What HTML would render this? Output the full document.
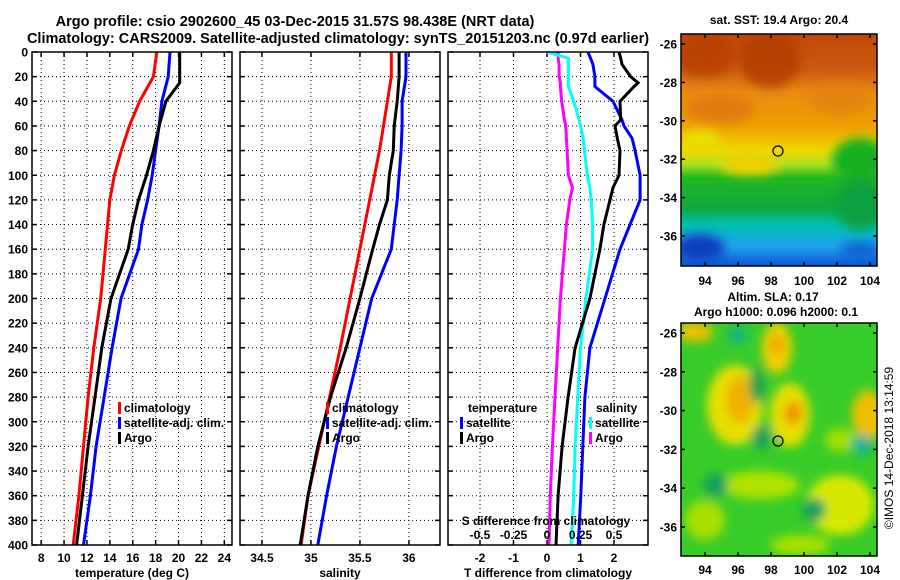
<!DOCTYPE html>
<html><head><meta charset="utf-8"><style>
body{margin:0;background:#fff;}
svg{display:block;font-family:"Liberation Sans",sans-serif;font-weight:bold;}
</style></head><body>
<svg id="chart" width="900" height="580" viewBox="0 0 900 580">
<defs>
<linearGradient id="sstg" x1="0" y1="0" x2="0" y2="1">
<stop offset="0" stop-color="#c04808"/><stop offset="0.15" stop-color="#c85a10"/><stop offset="0.25" stop-color="#e88a10"/><stop offset="0.4" stop-color="#f0a000"/><stop offset="0.5" stop-color="#f0d800"/><stop offset="0.56" stop-color="#b0e020"/><stop offset="0.62" stop-color="#20b820"/><stop offset="0.75" stop-color="#10a840"/><stop offset="0.82" stop-color="#00c0b0"/><stop offset="0.92" stop-color="#20a0f0"/><stop offset="1" stop-color="#1050d0"/>
</linearGradient>
<filter id="blur" x="-20%" y="-20%" width="140%" height="140%"><feGaussianBlur stdDeviation="5"/></filter>
<clipPath id="c1"><rect x="681" y="34" width="196" height="232"/></clipPath>
<clipPath id="c2"><rect x="681" y="323" width="196" height="233"/></clipPath>
</defs>
<g font-size="14.5" text-anchor="middle">
<text x="295" y="26">Argo profile: csio 2902600_45 03-Dec-2015 31.57S 98.438E (NRT data)</text>
<text x="338" y="43">Climatology: CARS2009. Satellite-adjusted climatology: synTS_20151203.nc (0.97d earlier)</text>
</g>
<g id="panels"></g>
<g clip-path="url(#c1)">
<rect x="681" y="34" width="196" height="232" fill="url(#sstg)"/>
<g filter="url(#blur)">
<ellipse cx="705" cy="55" rx="30" ry="22" fill="#b84008" opacity="0.8"/>
<ellipse cx="770" cy="60" rx="30" ry="28" fill="#b03c08" opacity="0.8"/>
<ellipse cx="720" cy="110" rx="35" ry="14" fill="#d86a10" opacity="0.6"/>
<ellipse cx="860" cy="160" rx="28" ry="22" fill="#18b020"/>
<ellipse cx="840" cy="100" rx="30" ry="15" fill="#e08010" opacity="0.7"/>
<ellipse cx="750" cy="165" rx="30" ry="10" fill="#f0d000"/>
<ellipse cx="700" cy="140" rx="20" ry="10" fill="#e8e000"/>
<ellipse cx="860" cy="205" rx="25" ry="25" fill="#10a040"/>
<ellipse cx="700" cy="248" rx="25" ry="14" fill="#1040c0"/>
<ellipse cx="860" cy="250" rx="20" ry="8" fill="#1060d0"/>
</g>
</g>
<rect x="681" y="34" width="196" height="232" fill="none" stroke="#000" stroke-width="1.5"/>
<circle cx="778" cy="151" r="5" fill="none" stroke="#000" stroke-width="1.2"/>
<text x="779" y="24" font-size="12" text-anchor="middle">sat. SST: 19.4 Argo: 20.4</text>
<g clip-path="url(#c2)">
<rect x="681" y="323" width="196" height="233" fill="#38cc28"/>
<g filter="url(#blur)">
<ellipse cx="735" cy="405" rx="28" ry="40" fill="#e8e000"/>
<ellipse cx="740" cy="400" rx="14" ry="24" fill="#f0b000"/>
<ellipse cx="777" cy="348" rx="15" ry="26" fill="#f0d000"/>
<ellipse cx="777" cy="345" rx="6" ry="10" fill="#f0a000"/>
<ellipse cx="790" cy="415" rx="20" ry="32" fill="#e8e000"/>
<ellipse cx="793" cy="413" rx="9" ry="12" fill="#f09000"/>
<ellipse cx="868" cy="415" rx="16" ry="25" fill="#f0c000"/>
<ellipse cx="840" cy="505" rx="34" ry="30" fill="#d8e800"/>
<ellipse cx="695" cy="332" rx="18" ry="10" fill="#f0c000"/>
<ellipse cx="760" cy="485" rx="40" ry="14" fill="#b0e400"/>
<ellipse cx="705" cy="520" rx="20" ry="20" fill="#a8e000"/>
<ellipse cx="800" cy="545" rx="30" ry="10" fill="#a8e000"/>
<ellipse cx="840" cy="440" rx="15" ry="12" fill="#a0e000"/>
<ellipse cx="738" cy="335" rx="10" ry="8" fill="#10b090"/>
<ellipse cx="762" cy="437" rx="10" ry="12" fill="#10a060"/>
<ellipse cx="862" cy="445" rx="10" ry="10" fill="#10b0a0"/>
<ellipse cx="814" cy="510" rx="12" ry="12" fill="#10a060"/>
<ellipse cx="716" cy="485" rx="12" ry="12" fill="#10a060"/>
<ellipse cx="757" cy="385" rx="8" ry="18" fill="#20a050"/>
</g>
</g>
<rect x="681" y="323" width="196" height="233" fill="none" stroke="#000" stroke-width="1.5"/>
<circle cx="778" cy="441" r="5" fill="none" stroke="#000" stroke-width="1.2"/>
<g font-size="12" text-anchor="middle">
<text x="773" y="301">Altim. SLA: 0.17</text>
<text x="776" y="316">Argo h1000: 0.096 h2000: 0.1</text>
</g>
<text transform="translate(893,448) rotate(-90)" font-size="12" font-weight="normal" text-anchor="middle">©IMOS 14-Dec-2018 13:14:59</text>
<g id="maps-axes"></g>
</svg>
<script>
// ---- data ----
const depths   = [0,20,40,60,80,100,120,140,160,200,240,280,320,360,400];
const tempClim = [18.1,17.8,16.6,15.7,15.0,14.4,14.0,13.8,13.6,13.2,12.6,12.1,11.7,11.3,10.8];
const tempSat  = [19.25,19.1,18.55,18.3,18.0,17.7,17.3,16.8,16.5,14.97,14.2,13.5,12.8,12.3,11.7];
const tempArgoDepths = [0,25,40,60,80,100,120,140,160,200,240,280,320,360,400];
const tempArgo = [20.1,20.1,18.9,18.3,17.8,17.2,16.5,16.0,15.6,14.1,13.3,12.7,12.1,11.6,11.1];
const salClim  = [35.82,35.82,35.78,35.74,35.70,35.65,35.60,35.55,35.50,35.40,35.30,35.19,35.08,34.97,34.90];
const salSat   = [35.97,35.97,35.93,35.93,35.92,35.90,35.88,35.85,35.82,35.62,35.50,35.38,35.26,35.16,35.07];
const salArgo  = [35.90,35.90,35.88,35.85,35.84,35.80,35.78,35.70,35.63,35.50,35.36,35.20,35.07,34.97,34.89];
const diffDepths  = [0,5,10,20,25,28,40,55,60,70,80,100,110,120,140,160,200,240,280,320,360,400];
const tDiffSat  = [1.22,1.3,1.37,1.43,1.43,1.43,1.97,2.24,2.3,2.54,2.63,2.78,2.78,2.78,2.48,2.18,1.73,1.28,1.13,1.07,1.01,0.93];
const tDiffArgo = [2.15,2.2,2.24,2.5,2.72,2.6,2.18,2.2,2.03,2.1,2.18,2.15,1.97,1.88,1.70,1.58,1.28,0.84,0.63,0.45,0.33,0.27];
const sDiffSat  = [0.0,0.16,0.16,0.16,0.16,0.16,0.2,0.24,0.25,0.27,0.28,0.30,0.32,0.33,0.34,0.34,0.29,0.25,0.23,0.21,0.20,0.18];
const sDiffArgo = [0.083,0.083,0.09,0.09,0.10,0.10,0.11,0.13,0.14,0.145,0.15,0.16,0.19,0.17,0.145,0.13,0.10,0.08,0.06,0.04,0.025,0.015];
const depthTicks = [0,20,40,60,80,100,120,140,160,180,200,220,240,260,280,300,320,340,360,380,400];
const tempTicks = [8,10,12,14,16,18,20,22,24];
const salTicks = [34.5,35,35.5,36];
const salTickLabels = ["34.5","35","35.5","36"];
const tDiffTicks = [-2,-1,0,1,2];
const sDiffTicks = [-0.5,-0.25,0,0.25,0.5];
const sDiffLabels = ["-0.5","-0.25","0","0.25","0.5"];
const latTicks = [-26,-28,-30,-32,-34,-36];
const lonTicks = [94,96,98,100,102,104];

const NS="http://www.w3.org/2000/svg";
const root=document.getElementById('panels');
function mk(tag,attrs,parent){const e=document.createElementNS(NS,tag);for(const k in attrs)e.setAttribute(k,attrs[k]);(parent||root).appendChild(e);return e;}
const Y0=52,Y1=545;
const yScale=d=>Y0+(d/400)*(Y1-Y0);
function makeX(x0,x1,v0,v1){return v=>x0+(v-v0)/(v1-v0)*(x1-x0);}

function panel(name,x0,x1,xs,ticks,labels,title,showY){
  const g=mk('g',{});
  
  
  ticks.forEach(t=>{const x=xs(t);
    const l=mk('line',{x1:x,x2:x,y1:Y0,y2:Y1,stroke:'#000','stroke-width':1,'stroke-dasharray':'1,3'},g);
    
    
    mk('line',{x1:x,x2:x,y1:Y1,y2:Y1-5,stroke:'#000','stroke-width':1.5},g);
    mk('line',{x1:x,x2:x,y1:Y0,y2:Y0+5,stroke:'#000','stroke-width':1.5},g);
  });
  depthTicks.forEach(d=>{const y=yScale(d);
    if(d>0&&d<400){const l=mk('line',{x1:x0,x2:x1,y1:y,y2:y,stroke:'#000','stroke-width':1,'stroke-dasharray':'1,3'},g);
    
    }
    mk('line',{x1:x0,x2:x0+5,y1:y,y2:y,stroke:'#000','stroke-width':1.5},g);
    mk('line',{x1:x1-5,x2:x1,y1:y,y2:y,stroke:'#000','stroke-width':1.5},g);
    if(showY){const t=mk('text',{x:x0-4,y:y+4.5,'font-size':12,'text-anchor':'end'},g);t.textContent=d;
      
      }
  });
  if(labels){ticks.forEach((t,i)=>{const tx=mk('text',{x:xs(t),y:562,'font-size':12,'text-anchor':'middle'},g);tx.textContent=labels[i];
    
    });}
  const tt=mk('text',{x:(x0+x1)/2,y:577,'font-size':12,'text-anchor':'middle'},g);tt.textContent=title;
  
  
  return g;
}
function series(g,name,xs,vals,ds,color){
  const pts=vals.map((v,i)=>xs(v).toFixed(1)+','+yScale(ds[i]).toFixed(1)).join(' ');
  const p=mk('polyline',{points:pts,fill:'none',stroke:color,'stroke-width':3},g);
  
  
}
function frame(g,x0,x1){mk('rect',{x:x0,y:Y0,width:x1-x0,height:Y1-Y0,fill:'none',stroke:'#000','stroke-width':1.5},g);}
function legend(g,x,y,items,dx){
  items.forEach((it,i)=>{
    if(it[1]){const r=mk('rect',{x:x,y:y+i*15-10,width:3,height:12,fill:it[1]},g);
      
      }
    const t=mk('text',{x:x+(it[1]?6:(dx||0)),y:y+i*15,'font-size':12},g);t.textContent=it[0];
    
    
  });
}

const xT=makeX(32,232,7.2,24.67);
const g1=panel('temperature-panel',32,232,xT,tempTicks,tempTicks.map(String),'temperature (deg C)',true);
series(g1,'temp-climatology-line',xT,tempClim,depths,'#f00');
series(g1,'temp-satellite-line',xT,tempSat,depths,'#00f');
series(g1,'temp-argo-line',xT,tempArgo,tempArgoDepths,'#000');
frame(g1,32,232);
legend(g1,118,412,[['climatology','#f00'],['satellite-adj. clim.','#00f'],['Argo','#000']]);

const xS=makeX(240,440,34.276,36.317);
const g2=panel('salinity-panel',240,440,xS,salTicks,salTickLabels,'salinity',false);
series(g2,'sal-climatology-line',xS,salClim,depths,'#f00');
series(g2,'sal-satellite-line',xS,salSat,depths,'#00f');
series(g2,'sal-argo-line',xS,salArgo,depths,'#000');
frame(g2,240,440);
legend(g2,326,412,[['climatology','#f00'],['satellite-adj. clim.','#00f'],['Argo','#000']]);

const xD=makeX(448,648,-2.955,3.015);
const xSD=s=>xD(s*4);
const g3=panel('difference-panel',448,648,xD,tDiffTicks,tDiffTicks.map(String),'T difference from climatology',false);
series(g3,'s-diff-argo-line',xSD,sDiffArgo,diffDepths,'#f0f');
series(g3,'s-diff-satellite-line',xSD,sDiffSat,diffDepths,'#0ff');
series(g3,'t-diff-satellite-line',xD,tDiffSat,diffDepths,'#00f');
series(g3,'t-diff-argo-line',xD,tDiffArgo,diffDepths,'#000');
frame(g3,448,648);
legend(g3,460,412,[['temperature',null],['satellite','#00f'],['Argo','#000']],8);
legend(g3,589,412,[['salinity',null],['satellite','#0ff'],['Argo','#f0f']],7);
const st=mk('text',{x:546,y:525,'font-size':12,'text-anchor':'middle'},g3);st.textContent='S difference from climatology';


sDiffTicks.forEach((s,i)=>{const t=mk('text',{x:xSD(s),y:539,'font-size':12,'text-anchor':'middle'},g3);t.textContent=sDiffLabels[i];
  
  });

const ma=document.getElementById('maps-axes');
function mapAxes(name,top,bot,lat26,lat36,lonY){
  const g=mk('g',{},ma);
  
  
  const ly=lat=>lat26+(lat+26)/(-10)*(lat36-lat26);
  const lx=lon=>705+(lon-94)*16.5;
  latTicks.forEach(l=>{const y=ly(l);
    mk('line',{x1:681,x2:685,y1:y,y2:y,stroke:'#000','stroke-width':1.5},g);
    mk('line',{x1:873,x2:877,y1:y,y2:y,stroke:'#000','stroke-width':1.5},g);
    const t=mk('text',{x:677,y:y+4.5,'font-size':12,'text-anchor':'end'},g);t.textContent=l;
    
    });
  lonTicks.forEach(l=>{const x=lx(l);
    mk('line',{x1:x,x2:x,y1:bot,y2:bot-4,stroke:'#000','stroke-width':1.5},g);
    mk('line',{x1:x,x2:x,y1:top,y2:top+4,stroke:'#000','stroke-width':1.5},g);
    const t=mk('text',{x:x,y:lonY,'font-size':12,'text-anchor':'middle'},g);t.textContent=l;
    
    });
}
mapAxes('sst-map-axes',34,266,44,236,285);
mapAxes('sla-map-axes',323,556,333,527,574);
</script>
</body></html>
